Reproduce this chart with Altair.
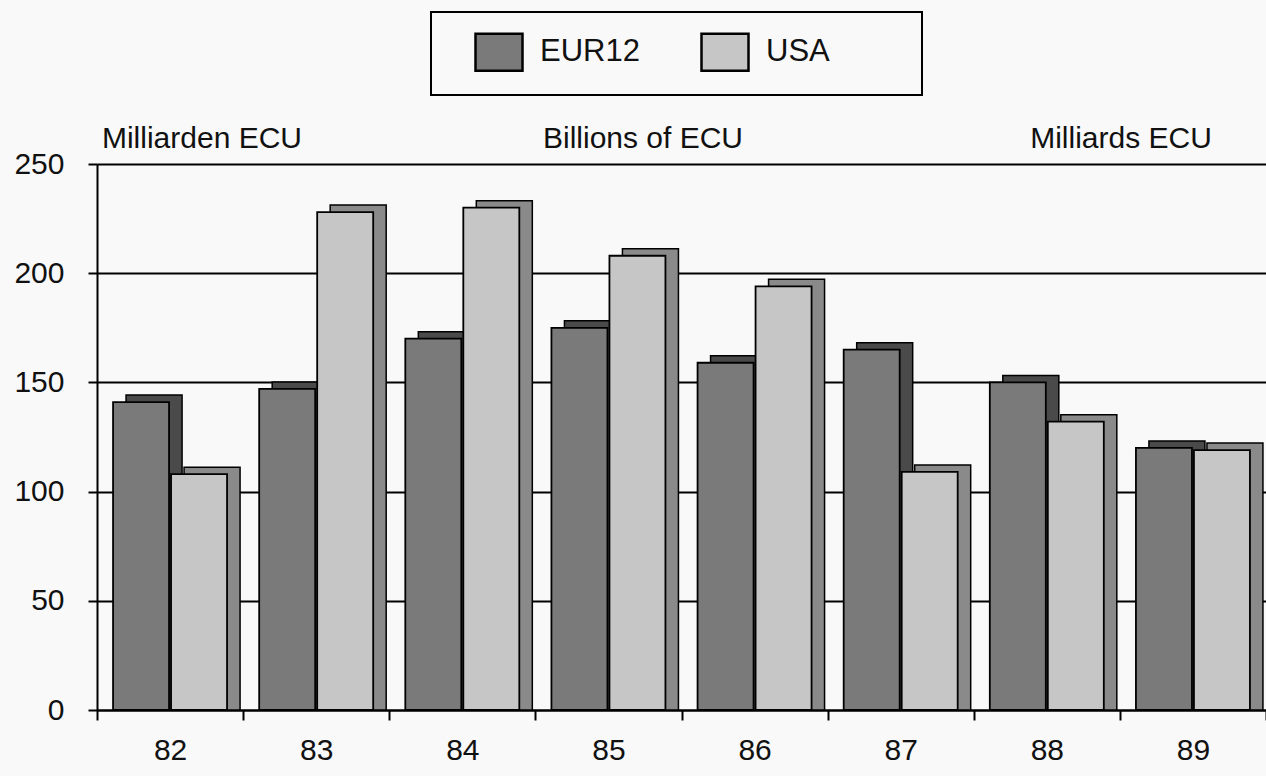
import altair as alt
import pandas as pd

years = ["82", "83", "84", "85", "86", "87", "88", "89"]
eur12 = [141, 147, 170, 175, 159, 165, 150, 120]
usa = [108, 228, 230, 208, 194, 109, 132, 119]
series = ["EUR12", "USA"]
yticks = [0, 50, 100, 150, 200, 250]
subtitles = ["Milliarden ECU", "Billions of ECU", "Milliards ECU"]

df = pd.DataFrame({
    "year": years * 2,
    "series": [series[0]] * len(years) + [series[1]] * len(years),
    "value": eur12 + usa,
})

FONT = "Liberation Sans"
FS = 30
W, H = 1169, 546
BAR_W = 56
DX, DY = 13, -7
OFF = {"EUR12": -29, "USA": 29}
FRONT = {"EUR12": "#7a7a7a", "USA": "#c6c6c6"}
SIDE = {"EUR12": "#4a4a4a", "USA": "#8a8a8a"}

x = alt.X(
    "year:N",
    scale=alt.Scale(domain=years, paddingInner=0, paddingOuter=0),
    axis=alt.Axis(
        title=None, labelAngle=0, tickBand="extent", grid=False,
        domainColor="black", domainWidth=2, tickColor="black", tickWidth=2,
        tickSize=10, labelFont=FONT, labelFontSize=FS, labelColor="#111",
        labelPadding=15,
    ),
)
y = alt.Y(
    "value:Q",
    scale=alt.Scale(domain=[0, 250], nice=False),
    axis=alt.Axis(
        title=None, values=yticks, grid=True, gridColor="black", gridWidth=1.8,
        domainColor="black", domainWidth=2, tickColor="black", tickWidth=2,
        tickSize=9, labelFont=FONT, labelFontSize=FS, labelColor="#111",
        labelPadding=24,
    ),
)

color = alt.Color(
    "series:N",
    scale=alt.Scale(domain=series, range=[FRONT[s] for s in series]),
    legend=alt.Legend(
        orient="none", legendX=377, legendY=-137, direction="horizontal",
        title=None, symbolType="M-1,-0.79L1,-0.79L1,0.79L-1,0.79Z",
        symbolSize=2209, symbolStrokeColor="black", symbolStrokeWidth=2.5,
        symbolOpacity=1, labelFont=FONT, labelFontSize=31, labelColor="#111",
        labelOffset=16, columnPadding=56, padding=0,
    ),
)

base = alt.Chart(df)
layers = []
for s in series:
    sub = base.transform_filter(alt.datum.series == s)
    back = sub.mark_bar(
        width=BAR_W, xOffset=OFF[s] + DX, yOffset=DY, fill=SIDE[s],
        stroke="black", strokeWidth=1.5,
    ).encode(x=x, y=y, y2=alt.value(H))
    front = sub.mark_bar(
        width=BAR_W, xOffset=OFF[s], stroke="black", strokeWidth=1.8, opacity=1,
    ).encode(x=x, y=y, color=color)
    layers += [back, front]

one = alt.Data(values=[{}])
legend_box = alt.Chart(one).mark_rect(
    fillOpacity=0, stroke="black", strokeWidth=2
).encode(x=alt.value(334), x2=alt.value(825), y=alt.value(-152), y2=alt.value(-69))

sub_pos = [(105, "center"), (546, "center"), (1024, "center")]
texts = []
for t, (px, al) in zip(subtitles, sub_pos):
    texts.append(
        alt.Chart(one).mark_text(
            font=FONT, fontSize=FS, color="#111", align=al, baseline="alphabetic"
        ).encode(x=alt.value(px), y=alt.value(-16), text=alt.value(t))
    )

chart = alt.layer(*layers, legend_box, *texts).properties(
    width=W, height=H,
    autosize=alt.AutoSizeParams(type="none"),
    padding={"left": 97, "top": 164, "right": 0, "bottom": 66},
    background="#f9f9f9",
).configure_view(stroke=None)

chart.save("out.html", embed_options={"renderer": "svg", "actions": False})
